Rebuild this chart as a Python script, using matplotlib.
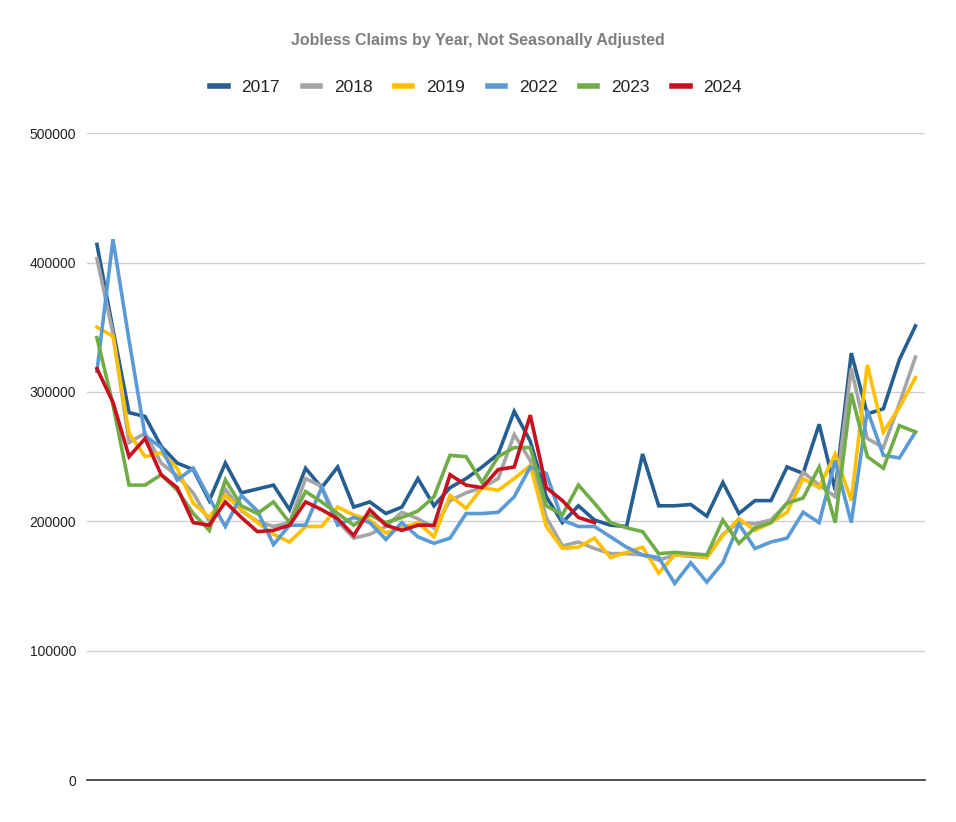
import numpy as np
import matplotlib
matplotlib.use("Agg")
import matplotlib.pyplot as plt

plt.rcParams['font.family'] = ['Liberation Sans', 'DejaVu Sans']

# weekly jobless claims, not seasonally adjusted
c2017 = [414000, 348000, 284000, 281000, 258000, 245000, 240000, 216000, 245000, 222000,
         225000, 228000, 209000, 241000, 226000, 242000, 211000, 215000, 206000, 211000,
         233000, 212000, 226000, 233000, 242000, 252000, 285000, 262000, 219000, 199000,
         212000, 201000, 197000, 196000, 252000, 212000, 212000, 213000, 204000, 230000,
         206000, 216000, 216000, 242000, 237000, 275000, 224000, 330000, 283000, 287000,
         325000, 351000]
c2018 = [403000, 345000, 261000, 268000, 245000, 235000, 222000, 200000, 225000, 208000,
         200000, 196000, 199000, 233000, 227000, 200000, 187000, 190000, 196000, 207000,
         202000, 195000, 216000, 222000, 226000, 233000, 267000, 247000, 203000, 181000,
         184000, 179000, 175000, 175000, 174000, 170000, 174000, 173000, 172000, 190000,
         199000, 198000, 201000, 214000, 238000, 228000, 219000, 318000, 264000, 257000,
         291000, 327000]
c2019 = [350000, 343000, 268000, 250000, 253000, 241000, 214000, 203000, 220000, 209000,
         199000, 190000, 184000, 196000, 196000, 211000, 205000, 201000, 191000, 195000,
         199000, 188000, 220000, 210000, 226000, 224000, 233000, 243000, 196000, 179000,
         180000, 187000, 172000, 176000, 180000, 160000, 174000, 174000, 172000, 189000,
         202000, 193000, 199000, 207000, 233000, 226000, 252000, 216000, 321000, 269000,
         288000, 311000]
c2022 = [316000, 418000, 340000, 266000, 257000, 232000, 241000, 218000, 196000, 220000,
         208000, 182000, 197000, 197000, 226000, 197000, 203000, 199000, 186000, 199000,
         188000, 183000, 187000, 206000, 206000, 207000, 219000, 242000, 237000, 201000,
         196000, 196000, 188000, 180000, 174000, 172000, 152000, 168000, 153000, 168000,
         198000, 179000, 184000, 187000, 207000, 199000, 247000, 199000, 286000, 251000,
         249000, 269000]
c2023 = [342000, 290000, 228000, 228000, 236000, 224000, 206000, 193000, 232000, 212000,
         206000, 215000, 199000, 223000, 215000, 206000, 197000, 205000, 199000, 203000,
         208000, 219000, 251000, 250000, 230000, 250000, 257000, 257000, 212000, 205000,
         228000, 214000, 199000, 195000, 192000, 175000, 176000, 175000, 174000, 201000,
         183000, 195000, 199000, 214000, 218000, 242000, 199000, 299000, 250000, 241000,
         274000, 269000]
c2024 = [318000, 292000, 250000, 264000, 236000, 226000, 199000, 197000, 215000, 203000,
         192000, 193000, 197000, 215000, 209000, 202000, 189000, 209000, 197000, 193000,
         197000, 197000, 236000, 228000, 226000, 240000, 242000, 282000, 226000, 216000,
         203000, 199000]

years = ['2017', '2018', '2019', '2022', '2023', '2024']
series = [c2017, c2018, c2019, c2022, c2023, c2024]
colors = ['#255E91', '#A5A5A5', '#FFC000', '#5B9BD5', '#70AD47', '#C8101E']

fig = plt.figure(figsize=(9.56, 8.22), dpi=100)
ax = fig.add_axes([0.091, 0.051, 0.877, 0.787])

for yr, vals, col in zip(years, series, colors):
    ax.plot(np.arange(len(vals)), vals, color=col, lw=2.6, label=yr,
            solid_joinstyle='miter')

ax.set_xlim(-0.62, 51.62)
ax.set_ylim(0, 500000)
ax.set_yticks(np.arange(0, 500001, 100000))
ax.set_yticklabels([str(v) for v in range(0, 500001, 100000)])
ax.set_xticks([])
ax.tick_params(axis='y', length=0, labelsize=10, labelcolor='#222222', pad=8)
ax.grid(axis='y', color='#D0D0D0', lw=1)
ax.set_axisbelow(True)
for s in ['top', 'right', 'left']:
    ax.spines[s].set_visible(False)
ax.spines['bottom'].set_color('#333333')
ax.spines['bottom'].set_linewidth(1.2)

fig.text(0.5, 0.951, 'Jobless Claims by Year, Not Seasonally Adjusted',
         ha='center', va='center', fontsize=11.5, fontweight='bold', color='#7F7F7F')

fig.legend(loc='center', bbox_to_anchor=(0.498, 0.894), ncol=6, frameon=False,
           fontsize=12.5, handlelength=1.0, handletextpad=0.8, columnspacing=1.3,
           labelcolor='#222222')
leg = fig.legends[0]
for h in leg.legend_handles:
    h.set_linewidth(4)

fig.savefig('out.png', dpi=100)
